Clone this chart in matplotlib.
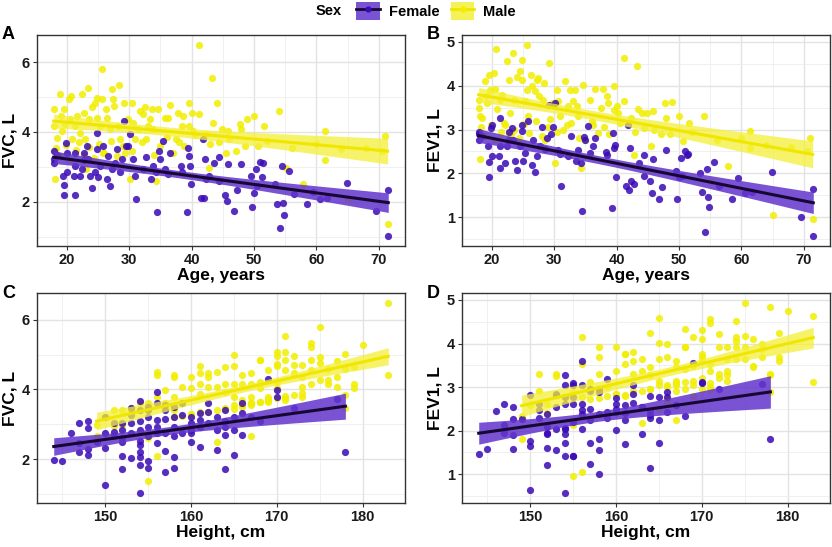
import numpy as np
import matplotlib
matplotlib.use("Agg")
import matplotlib.pyplot as plt
from matplotlib.patches import Patch
from matplotlib.lines import Line2D
from matplotlib.ticker import MultipleLocator

plt.rcParams['font.family'] = ['Liberation Sans', 'DejaVu Sans']
plt.rcParams['font.weight'] = 'bold'

# ---- data (one entry per participant) ----
f_age = [17.9, 17.9, 18.0, 18.5, 19.4, 19.6, 19.6, 19.8, 20.0, 20.0,
         21.2, 21.3, 21.3, 21.3, 22.1, 22.4, 22.7, 22.7, 23.2, 23.4,
         23.7, 24.1, 24.5, 24.8, 24.8, 25.0, 25.3, 25.8, 26.4, 26.6,
         26.9, 27.2, 27.7, 28.0, 28.5, 28.8, 29.1, 29.5, 29.8, 30.2,
         30.6, 30.9, 31.1, 32.2, 32.7, 33.5, 33.8, 34.3, 34.4, 34.8,
         34.9, 35.4, 35.7, 36.2, 36.5, 38.3, 38.5, 39.2, 39.4, 39.5,
         39.7, 39.9, 41.5, 41.8, 41.9, 42.2, 42.3, 42.8, 43.6, 44.4,
         44.4, 45.4, 45.6, 45.9, 46.8, 47.2, 47.9, 49.5, 49.7, 50.0,
         50.3, 50.5, 50.9, 51.3, 51.4, 53.4, 53.7, 54.2, 54.6, 54.8,
         55.6, 56.4, 58.5, 59.5, 60.6, 61.7, 64.9, 69.6, 71.5, 71.5, 54.5]
f_fvc = [3.22, 3.46, 3.10, 3.35, 2.74, 2.48, 2.19, 3.68, 2.84, 3.40,
         2.74, 2.19, 3.03, 3.40, 2.74, 2.93, 3.20, 3.40, 3.60, 3.22,
         2.74, 2.40, 2.84, 3.50, 3.98, 2.70, 3.03, 3.60, 2.65, 3.31,
         2.46, 2.93, 3.12, 3.50, 2.84, 3.22, 4.30, 3.60, 3.60, 3.93,
         3.22, 2.74, 2.07, 2.93, 3.27, 2.65, 3.03, 2.84, 1.71, 3.46,
         3.22, 3.74, 2.93, 2.79, 3.40, 3.03, 2.84, 1.71, 3.55, 3.31,
         3.03, 2.50, 2.12, 3.79, 2.10, 3.22, 2.65, 2.74, 3.12, 3.27,
         2.60, 2.19, 2.03, 3.08, 1.74, 2.34, 3.08, 2.74, 1.84, 2.25,
         2.93, 2.46, 3.14, 2.70, 3.10, 2.50, 1.93, 1.24, 1.98, 1.62,
         2.89, 2.22, 1.93, 2.29, 2.07, 2.12, 2.53, 1.74, 2.33, 1.01, 3.03]
f_fev1 = [2.89, 2.95, 2.77, 2.85, 2.62, 2.26, 1.92, 3.04, 2.39, 3.10,
          2.39, 2.13, 2.62, 3.27, 2.24, 2.62, 2.77, 2.95, 3.04, 2.77,
          2.28, 2.07, 2.62, 2.96, 3.11, 2.28, 2.47, 3.19, 2.20, 2.77,
          2.04, 2.39, 2.62, 3.05, 2.55, 2.81, 3.55, 2.89, 3.05, 3.61,
          2.54, 2.45, 1.71, 2.40, 2.85, 2.28, 2.54, 2.24, 1.14, 2.83,
          2.75, 3.08, 2.47, 2.62, 2.80, 2.49, 2.43, 1.22, 2.92, 2.58,
          2.64, 1.92, 1.71, 3.10, 1.61, 2.58, 1.82, 1.76, 2.24, 2.43,
          1.95, 1.82, 1.56, 2.33, 1.41, 1.69, 2.54, 2.05, 1.41, 1.92,
          2.35, 1.94, 2.50, 2.43, 2.45, 2.01, 1.57, 0.65, 1.47, 1.24,
          2.26, 1.72, 1.42, 1.90, 1.56, 1.57, 2.04, 1.00, 1.65, 0.56, 2.09]
f_height = [158, 172, 154, 162, 160, 149, 154, 154, 152, 155,
            156, 147, 147, 154, 157, 155, 155, 157, 156, 165,
            159, 154, 154, 158, 170, 164, 151, 159, 155, 166,
            156, 158, 156, 155, 163, 150, 169, 166, 162, 156,
            163, 146, 154, 161, 153, 151, 153, 165, 164, 153,
            160, 177, 156, 151, 164, 160, 160, 152, 157, 161,
            162, 152, 165, 170, 152, 167, 158, 150, 161, 159,
            152, 178, 153, 168, 155, 161, 148, 153, 154, 163,
            164, 147, 157, 166, 164, 160, 145, 150, 144, 157,
            148, 157, 155, 148, 158, 148, 154, 158, 150, 154, 152]

# males: visible points, then those hidden under the female dots / male band
m_age = [17.9, 17.9, 18.1, 18.1, 18.5, 18.9, 19.0, 19.2, 19.5, 19.7,
         20.3, 20.6, 20.5, 20.8, 21.3, 21.6, 22.1, 22.4, 22.7, 22.9,
         23.1, 23.4, 23.6, 24.0, 24.5, 24.8, 24.9, 25.3, 25.6, 25.7,
         25.8, 26.3, 26.5, 26.9, 27.2, 27.4, 27.5, 28.2, 28.4, 28.5,
         29.1, 29.3, 29.8, 30.1, 30.4, 30.6, 30.9, 31.4, 31.7, 32.2,
         32.6, 32.7, 33.0, 33.3, 33.7, 33.8, 34.3, 34.6, 34.9, 35.7,
         36.2, 36.5, 37.0, 37.5, 37.8, 38.5, 38.6, 38.8, 39.5, 39.6,
         40.1, 40.2, 41.2, 41.2, 42.3, 42.7, 43.2, 43.4, 44.0, 44.4,
         44.8, 45.5, 45.9, 47.1, 47.7, 47.9, 48.8, 50.0, 50.7, 51.6,
         54.0, 55.1, 57.9, 61.3, 61.3, 65.1, 71.0, 71.4,
         18.3, 19.0, 19.8, 20.5, 21.4, 22.0, 22.8, 23.5, 24.3, 25.1,
         26.0, 27.0, 28.0, 29.0, 30.5, 32.0, 34.0, 36.0, 38.0, 40.5,
         43.0, 46.0, 48.5, 52.0, 56.0, 60.0, 64.0, 68.0, 70.5]
m_fvc = [4.67, 4.17, 3.46, 2.65, 3.84, 5.08, 4.46, 4.03, 4.65, 4.22,
         4.95, 5.03, 4.36, 3.79, 4.17, 4.46, 3.98, 5.08, 4.55, 3.79,
         2.95, 5.27, 4.36, 4.70, 4.84, 4.98, 4.41, 4.17, 4.95, 5.79,
         3.40, 4.65, 4.41, 4.08, 5.22, 4.93, 4.74, 4.17, 5.33, 3.79,
         4.84, 3.40, 4.36, 2.65, 4.84, 4.27, 3.79, 4.08, 4.60, 4.50,
         4.70, 3.79, 4.17, 4.36, 4.67, 4.08, 2.60, 4.67, 3.60, 4.41,
         4.41, 4.76, 3.40, 3.79, 4.55, 4.17, 4.46, 3.60, 4.17, 4.82,
         4.55, 4.03, 4.50, 6.50, 3.93, 2.98, 5.53, 4.27, 4.84, 3.71,
         4.08, 3.40, 4.03, 3.46, 4.22, 4.08, 4.36, 4.46, 3.60, 4.17,
         4.60, 2.98, 2.50, 4.03, 3.20, 2.08, 3.87, 1.36,
         3.55, 3.30, 3.62, 3.20, 3.48, 3.70, 3.35, 3.58, 3.25, 3.65,
         3.40, 3.75, 3.30, 3.60, 3.45, 3.70, 3.35, 3.85, 3.70, 3.90,
         3.65, 3.80, 3.60, 3.75, 3.55, 3.65, 3.50, 3.55, 3.45]
m_fev1 = [3.68, 3.49, 3.30, 2.33, 3.27, 4.10, 3.76, 3.61, 4.25, 3.91,
          4.30, 4.84, 3.93, 3.46, 3.68, 3.80, 3.11, 4.56, 4.14, 3.38,
          2.90, 4.75, 3.68, 4.21, 4.33, 4.58, 4.14, 3.65, 3.91, 4.94,
          3.30, 4.25, 3.99, 3.87, 4.14, 4.18, 3.76, 3.68, 4.06, 2.77,
          4.52, 3.25, 3.61, 2.24, 3.91, 3.65, 3.30, 3.00, 4.10, 3.53,
          3.91, 3.15, 3.65, 3.91, 3.53, 3.30, 2.13, 4.02, 2.77, 3.68,
          3.11, 3.93, 2.92, 3.49, 3.93, 3.76, 3.61, 2.89, 3.45, 4.00,
          3.53, 3.38, 3.65, 4.63, 3.27, 2.41, 4.46, 3.46, 3.38, 3.04,
          3.38, 2.62, 3.42, 2.89, 3.61, 3.27, 3.64, 3.30, 2.73, 3.15,
          3.30, 1.82, 2.17, 2.96, 2.58, 1.06, 2.81, 0.95,
          3.05, 2.85, 3.10, 2.75, 2.95, 3.15, 2.90, 3.00, 2.80, 3.12,
          2.92, 3.20, 2.85, 3.05, 2.95, 3.10, 2.80, 3.20, 3.05, 3.15,
          2.95, 3.00, 2.90, 2.95, 2.75, 2.80, 2.65, 2.60, 2.50]
m_height = [170, 176, 153, 149, 178, 170, 161, 179, 179, 168,
            170, 178, 160, 167, 179, 162, 157, 171, 169, 173,
            151, 180, 177, 172, 168, 165, 156, 165, 172, 175,
            151, 164, 166, 177, 174, 175, 170, 166, 174, 156,
            174, 153, 162, 167, 168, 175, 158, 159, 176, 156,
            173, 165, 174, 158, 161, 162, 155, 165, 154, 158,
            183, 175, 158, 169, 174, 161, 167, 155, 164, 177,
            171, 160, 163, 183, 164, 152, 171, 176, 171, 166,
            163, 152, 168, 178, 170, 173, 173, 172, 157, 167,
            178, 149, 163, 170, 150, 156, 161, 155,
            165, 160, 167, 158, 164, 169, 162, 166, 159, 168,
            163, 170, 160, 167, 164, 171, 161, 172, 169, 173,
            168, 171, 167, 171, 166, 169, 166, 167, 165]

F_PT, M_PT = '#3A0AB5', '#F2EE00'
F_LINE, M_LINE = '#170833', '#F0E600'
F_BAND, M_BAND = '#6235CC', '#F4F03A'


def fit_band(x, y, xs):
    x = np.asarray(x, float)
    y = np.asarray(y, float)
    X = np.column_stack([np.ones_like(x), x])
    beta = np.linalg.lstsq(X, y, rcond=None)[0]
    res = y - X @ beta
    n = len(x)
    s2 = res @ res / (n - 2)
    xm = x.mean()
    sxx = ((x - xm) ** 2).sum()
    yhat = beta[0] + beta[1] * xs
    se = np.sqrt(s2 * (1 / n + (xs - xm) ** 2 / sxx))
    return yhat, yhat - 1.98 * se, yhat + 1.98 * se


def panel(ax, fx, fy, mx, my, xmaj, ymaj, xlabel, ylabel, letter):
    ax.scatter(mx, my, s=27, color=M_PT, alpha=0.85, lw=0, zorder=2)
    ax.scatter(fx, fy, s=27, color=F_PT, alpha=0.85, lw=0, zorder=2)
    for x, y, lc, bc, a in [(mx, my, M_LINE, M_BAND, 0.75), (fx, fy, F_LINE, F_BAND, 0.85)]:
        xs = np.linspace(min(x), max(x), 100)
        yh, lo, hi = fit_band(x, y, xs)
        ax.fill_between(xs, lo, hi, color=bc, alpha=a, lw=0, zorder=3)
        ax.plot(xs, yh, color=lc, lw=2.2, zorder=4)
    allx = list(fx) + list(mx)
    ally = list(fy) + list(my)
    dx = (max(allx) - min(allx)) * 0.05
    dy = (max(ally) - min(ally)) * 0.05
    ax.set_xlim(min(allx) - dx, max(allx) + dx)
    ax.set_ylim(min(ally) - dy, max(ally) + dy)
    ax.xaxis.set_major_locator(MultipleLocator(xmaj))
    ax.xaxis.set_minor_locator(MultipleLocator(xmaj / 2))
    ax.yaxis.set_major_locator(MultipleLocator(ymaj))
    ax.yaxis.set_minor_locator(MultipleLocator(ymaj / 2))
    ax.grid(which='major', color='#E3E3E3', lw=1.0, zorder=0)
    ax.grid(which='minor', color='#EEEEEE', lw=0.6, zorder=0)
    ax.set_axisbelow(True)
    for sp in ax.spines.values():
        sp.set_color('#333333')
        sp.set_linewidth(1.0)
    ax.tick_params(which='major', length=3, color='#333333', labelsize=10.5,
                   labelcolor='#1a1a1a', pad=2)
    ax.tick_params(which='minor', length=0)
    for lab in ax.get_xticklabels() + ax.get_yticklabels():
        lab.set_fontweight('bold')
    ax.set_xlabel(xlabel, fontsize=12.5, fontweight='bold', labelpad=1)
    ax.set_ylabel(ylabel, fontsize=12.5, fontweight='bold', labelpad=3)
    ax.text(-0.095, 1.0, letter, transform=ax.transAxes, fontsize=13,
            fontweight='bold', va='center', ha='left')


fig = plt.figure(figsize=(8.32, 5.47), dpi=100)
W, H = 832, 547
boxes = [(37, 35, 405, 246), (462, 35, 830, 246), (37, 293, 405, 503), (462, 293, 830, 503)]
axs = [fig.add_axes([l / W, 1 - b / H, (r - l) / W, (b - t) / H]) for l, t, r, b in boxes]

panel(axs[0], f_age, f_fvc, m_age, m_fvc, 10, 2, 'Age, years', 'FVC, L', 'A')
panel(axs[1], f_age, f_fev1, m_age, m_fev1, 10, 1, 'Age, years', 'FEV1, L', 'B')
panel(axs[2], f_height, f_fvc, m_height, m_fvc, 10, 2, 'Height, cm', 'FVC, L', 'C')
panel(axs[3], f_height, f_fev1, m_height, m_fev1, 10, 1, 'Height, cm', 'FEV1, L', 'D')

handles = [
    (Patch(facecolor=F_BAND, alpha=0.85, lw=0),
     Line2D([], [], color=F_LINE, lw=2, marker='o', markersize=4.5,
            markerfacecolor=F_PT, markeredgewidth=0)),
    (Patch(facecolor=M_BAND, alpha=0.85, lw=0),
     Line2D([], [], color=M_LINE, lw=2, marker='o', markersize=4.5,
            markerfacecolor=M_PT, markeredgewidth=0)),
]
fig.legend(handles, ['Female', 'Male'], loc='center', ncol=2,
           bbox_to_anchor=(436 / W, 1 - 11 / H), frameon=False,
           prop={'weight': 'bold', 'size': 10.5}, handlelength=1.6,
           handleheight=1.45, handletextpad=0.6, columnspacing=0.8)
fig.text(329 / W, 1 - 11 / H, 'Sex', fontsize=10.5, fontweight='bold',
         ha='center', va='center')

fig.savefig('out.png', dpi=100)
